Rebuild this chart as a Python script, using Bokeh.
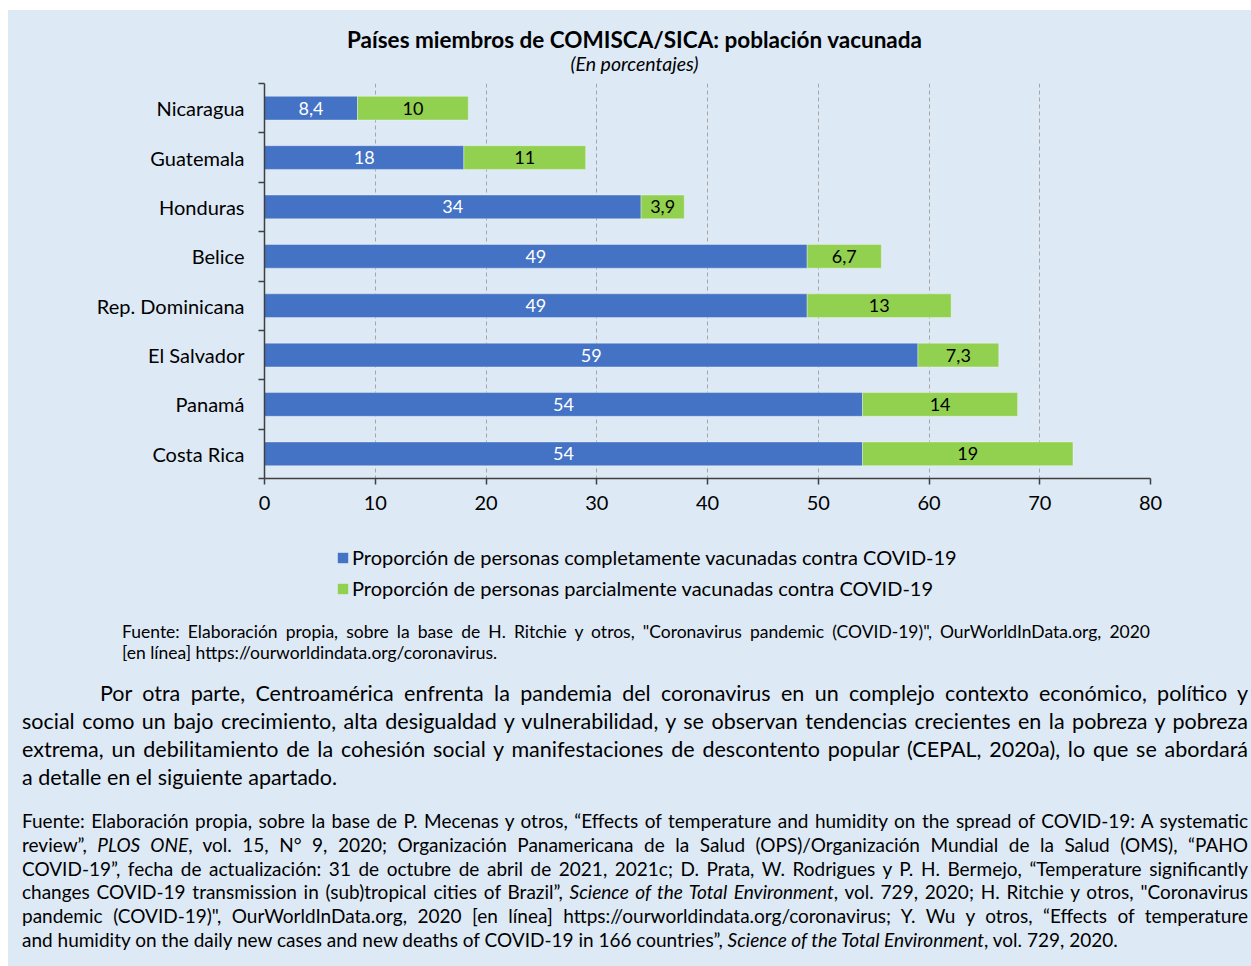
from bokeh.plotting import figure
from bokeh.models import (ColumnDataSource, Range1d, FixedTicker, Legend,
                          LegendItem, Div, Spacer)
from bokeh.layouts import column, row
from bokeh.core.properties import value
from bokeh.embed import file_html
from bokeh.resources import INLINE

# ---------------- data ----------------
countries = ["Nicaragua", "Guatemala", "Honduras", "Belice", "Rep. Dominicana",
             "El Salvador", "Panamá", "Costa Rica"]
completa = [8.4, 18, 34, 49, 49, 59, 54, 54]
parcial = [10, 11, 3.9, 6.7, 13, 7.3, 14, 19]
x_ticks = [0, 10, 20, 30, 40, 50, 60, 70, 80]
series_names = ["Proporción de personas completamente vacunadas contra COVID-19",
                "Proporción de personas parcialmente vacunadas contra COVID-19"]
title_text = "Países miembros de COMISCA/SICA: población vacunada"
subtitle_text = "(En porcentajes)"

# ---------------- styling ----------------
BG = "#DDE9F5"
BLUE = "#4472C4"
GREEN = "#92D050"
AX = "#404040"
FONT = "Lato"
Z = (0, 0, 0, 0)
WHITE = {"background-color": "white"}


def fmt(v):
    return f"{v:g}".replace(".", ",")


ypos = list(range(len(countries)))
src = ColumnDataSource(dict(
    y=ypos,
    completa=completa,
    parcial=parcial,
    x_c=[c / 2 for c in completa],
    x_p=[c + p / 2 for c, p in zip(completa, parcial)],
    t_c=[fmt(c) for c in completa],
    t_p=[fmt(p) for p in parcial],
))

# ---------------- main chart ----------------
p = figure(width=1243, height=455,
           x_range=Range1d(0, 80), y_range=Range1d(len(countries) - 0.5, -0.5),
           output_backend="svg", toolbar_location=None,
           min_border_left=256, min_border_right=101,
           min_border_top=8, min_border_bottom=52,
           background_fill_color=BG, border_fill_color=BG,
           outline_line_color=None, margin=Z)

rs = p.hbar_stack(["completa", "parcial"], y="y", height=0.48,
                  color=[BLUE, GREEN], line_color="white", line_alpha=0.35,
                  line_width=1, source=src)

p.text(x="x_c", y="y", text="t_c", source=src, text_color="white",
       text_font=value(FONT), text_font_size=value("18px"),
       text_align="center", text_baseline="middle")
p.text(x="x_p", y="y", text="t_p", source=src, text_color="black",
       text_font=value(FONT), text_font_size=value("18px"),
       text_align="center", text_baseline="middle")

xa = p.xaxis[0]
xa.ticker = FixedTicker(ticks=x_ticks)
xa.major_tick_out = 6
xa.major_tick_in = 0
xa.major_label_standoff = 11
xa.axis_line_color = AX
xa.axis_line_width = 1.5
xa.major_tick_line_color = AX
xa.major_tick_line_width = 1.5
xa.major_label_text_font = FONT
xa.major_label_text_font_size = "20px"
xa.major_label_text_color = "black"

ya = p.yaxis[0]
ya.ticker = FixedTicker(ticks=ypos,
                        minor_ticks=[i - 0.5 for i in range(len(countries) + 1)])
ya.major_label_overrides = {i: c for i, c in zip(ypos, countries)}
ya.major_tick_out = 0
ya.major_tick_in = 0
ya.major_label_standoff = 14
ya.minor_tick_out = 6
ya.minor_tick_in = 0
ya.minor_tick_line_color = AX
ya.minor_tick_line_width = 1.5
ya.axis_line_color = AX
ya.axis_line_width = 1.5
ya.major_label_text_font = FONT
ya.major_label_text_font_size = "20px"
ya.major_label_text_color = "black"

p.xgrid.grid_line_color = "#A6A6A6"
p.xgrid.grid_line_dash = "4 3"
p.xgrid.grid_line_width = 1
p.ygrid.grid_line_color = None

# ---------------- legend strip (own small canvas) ----------------
lf = figure(width=1243, height=82, x_range=Range1d(0, 1243), y_range=Range1d(0, 82),
            output_backend="svg", toolbar_location=None,
            x_axis_type=None, y_axis_type=None,
            min_border_left=0, min_border_right=0, min_border_top=0, min_border_bottom=0,
            background_fill_color=BG, border_fill_color=BG,
            outline_line_color=None, margin=Z)
lf.xgrid.visible = False
lf.ygrid.visible = False
# zero-length proxy bars: they only carry the series colours for the legend swatches
swatch_src = ColumnDataSource(dict(y=[0], right=[0]))
sw = [lf.hbar(y="y", right="right", height=1, fill_color=c, line_color=None,
              source=swatch_src)
      for c in (BLUE, GREEN)]
legend = Legend(items=[LegendItem(label=series_names[0], renderers=[sw[0]]),
                       LegendItem(label=series_names[1], renderers=[sw[1]])],
                location=(328, 12), orientation="vertical",
                padding=0, margin=0, spacing=7,
                glyph_width=13, glyph_height=13, label_height=24,
                label_standoff=3,
                label_text_font=FONT, label_text_font_size="20px",
                label_text_color="black",
                border_line_color=None, background_fill_alpha=0)
lf.add_layout(legend)

# ---------------- title block ----------------
title_html = (
    f'<div style="width:1243px;height:65px;background:{BG};font-family:{FONT};'
    f'color:#000;box-sizing:border-box;padding-top:18px;overflow:hidden;">'
    f'<div style="margin-left:10px;width:1233px;text-align:center;font-weight:bold;'
    f'font-size:22.5px;line-height:24px;">{title_text}</div>'
    f'<div style="margin-left:10px;width:1233px;text-align:center;font-style:italic;'
    f'font-size:19.5px;line-height:24px;">{subtitle_text}</div>'
    f'</div>'
)
title_div = Div(text=title_html, width=1243, height=65, margin=Z)

# ---------------- text below the chart ----------------
J = "text-align:justify;text-align-last:justify;white-space:nowrap;"
L = "text-align:left;white-space:nowrap;"

src_lines = [
    'Fuente: Elaboración propia, sobre la base de H. Ritchie y otros, "Coronavirus pandemic (COVID-19)", OurWorldInData.org, 2020',
    '[en línea] https://ourworldindata.org/coronavirus.',
]
par_lines = [
    "Por otra parte, Centroamérica enfrenta la pandemia del coronavirus en un complejo contexto económico, político y",
    "social como un bajo crecimiento, alta desigualdad y vulnerabilidad, y se observan tendencias crecientes en la pobreza y pobreza",
    "extrema, un debilitamiento de la cohesión social y manifestaciones de descontento popular (CEPAL, 2020a), lo que se abordará",
    "a detalle en el siguiente apartado.",
]
foot_lines = [
    "Fuente: Elaboración propia, sobre la base de P. Mecenas y otros, “Effects of temperature and humidity on the spread of COVID-19: A systematic",
    "review”, <i>PLOS ONE</i>, vol. 15, N° 9, 2020; Organización Panamericana de la Salud (OPS)/Organización Mundial de la Salud (OMS), “PAHO",
    "COVID-19”, fecha de actualización: 31 de octubre de abril de 2021, 2021c; D. Prata, W. Rodrigues y P. H. Bermejo, “Temperature significantly",
    "changes COVID-19 transmission in (sub)tropical cities of Brazil”, <i>Science of the Total Environment</i>, vol. 729, 2020; H. Ritchie y otros, \"Coronavirus",
    "pandemic (COVID-19)\", OurWorldInData.org, 2020 [en línea] https://ourworldindata.org/coronavirus; Y. Wu y otros, “Effects of temperature",
    "and humidity on the daily new cases and new deaths of COVID-19 in 166 countries”, <i>Science of the Total Environment</i>, vol. 729, 2020.",
]


def lines_html(lines, first_indent=0):
    out = []
    n = len(lines)
    for i, ln in enumerate(lines):
        style = J if i < n - 1 else L
        if i == 0 and first_indent:
            style += f"padding-left:{first_indent}px;"
        out.append(f'<div style="{style}">{ln}</div>')
    return "".join(out)


html = (
    f'<div style="width:1243px;height:354px;background:{BG};font-family:{FONT};'
    f'color:#000;box-sizing:border-box;padding-top:9px;overflow:hidden;">'
    f'<div style="margin-left:114px;width:1028px;font-size:17.5px;line-height:21px;">'
    f'{lines_html(src_lines)}</div>'
    f'<div style="margin-top:16px;margin-left:14px;width:1226px;font-size:21.5px;line-height:28px;">'
    f'{lines_html(par_lines, 78)}</div>'
    f'<div style="margin-top:18px;margin-left:14px;width:1226px;font-size:19px;line-height:23.8px;">'
    f'{lines_html(foot_lines)}</div>'
    f'</div>'
)
div = Div(text=html, width=1243, height=354, margin=Z)


def band(height, item):
    return row(Spacer(width=8, height=height, margin=Z, styles=WHITE), item,
               spacing=0, margin=Z, styles={"background-color": BG})


layout = column(
    Spacer(width=1251, height=10, margin=Z, styles=WHITE),
    band(65, title_div),
    band(455, p),
    band(82, lf),
    band(354, div),
    spacing=0, margin=Z, styles={"background-color": BG})

open("out.html", "w").write(file_html(layout, INLINE))
